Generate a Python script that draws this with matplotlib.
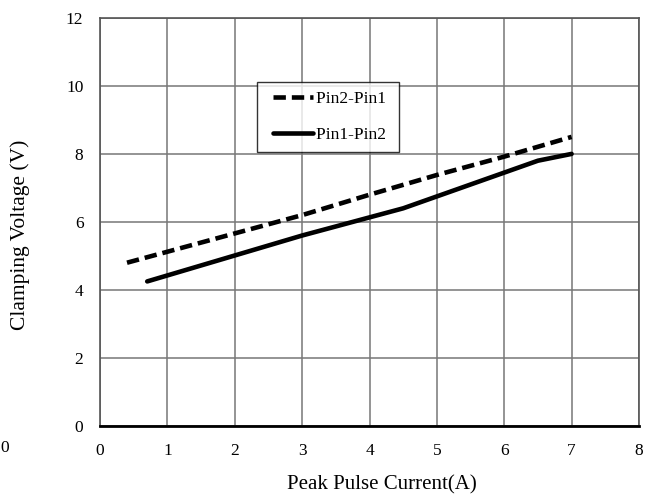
import matplotlib
matplotlib.use('Agg')
import matplotlib.pyplot as plt
from matplotlib.lines import Line2D
from matplotlib.legend_handler import HandlerLine2D

plt.rcParams['font.family'] = ['Liberation Serif', 'DejaVu Serif']

# values
p21_x = [0.4, 3, 4, 5, 6, 7]
p21_y = [4.8, 6.2, 6.8, 7.38, 7.92, 8.5]
p12_x = [0.7, 3, 4.5, 6.5, 7]
p12_y = [4.25, 5.6, 6.4, 7.8, 8.0]
xticks = [0, 1, 2, 3, 4, 5, 6, 7, 8]
yticks = [0, 2, 4, 6, 8, 10, 12]

fig = plt.figure(figsize=(6.54, 4.97), dpi=100)
ax = fig.add_axes([0.153, 0.143, 0.824, 0.821])

ax.plot(p21_x, p21_y, color='black', lw=3.3, dashes=(2.7, 1.3),
        dash_capstyle='butt', label='Pin2-Pin1 ')
ax.plot(p12_x, p12_y, color='black', lw=3.3, solid_capstyle='round',
        label='Pin1-Pin2 ')

ax.set_xlim(0, 8)
ax.set_ylim(0, 12)
ax.set_xticks(xticks)
ax.set_yticks(yticks)
ax.tick_params(length=0, labelsize=12.5, pad=12)
ax.grid(True, color='#777777', lw=1.1)
ax.set_axisbelow(True)
for s in ['top', 'right', 'left']:
    ax.spines[s].set_color('#555555')
    ax.spines[s].set_linewidth(1.2)
ax.spines['bottom'].set_color('black')
ax.spines['bottom'].set_linewidth(2)

ax.set_xlabel('Peak Pulse Current(A)', fontsize=15)
ax.set_ylabel('Clamping Voltage (V)', fontsize=15.5)
ax.xaxis.set_label_coords(0.523, -0.121)
ax.yaxis.set_label_coords(-0.13, 0.468)

leg = ax.legend(loc='upper left', bbox_to_anchor=(0.291, 0.843), fontsize=12.5,
                frameon=True, fancybox=False, edgecolor='black',
                handlelength=2.75, handletextpad=0.15, labelspacing=1.15,
                borderpad=0.5, borderaxespad=0,
                handler_map={Line2D: HandlerLine2D(xpad=0.4)})
leg.get_frame().set_linewidth(1.0)

# stray cut-off label at the left edge
fig.text(0.0, 0.098, '0', fontsize=12.5, ha='left', va='center')

fig.savefig('out.png', dpi=100)
